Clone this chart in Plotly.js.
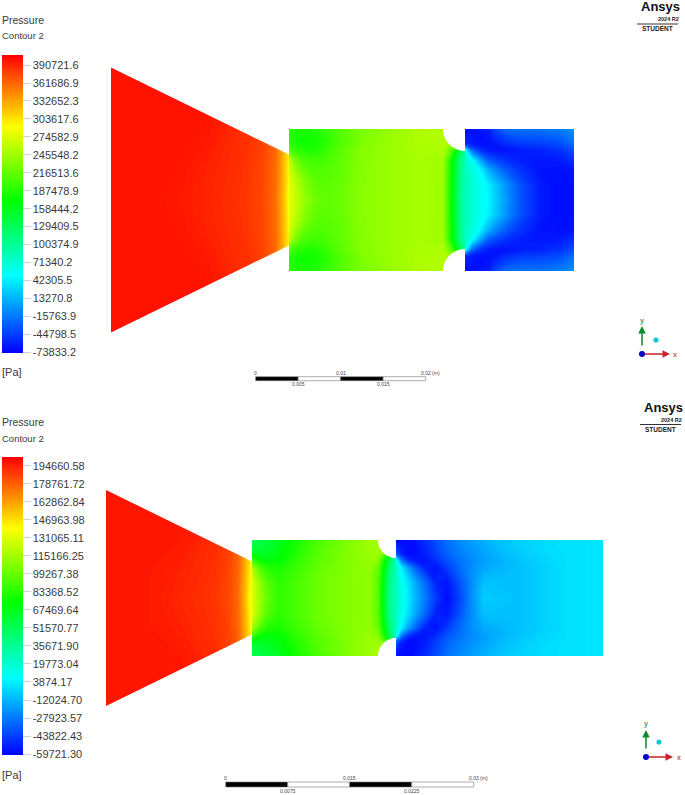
<!DOCTYPE html>
<html><head><meta charset="utf-8">
<script src="https://cdn.plot.ly/plotly-3.0.1.min.js"></script>
<style>html,body{margin:0;padding:0;background:#fff}#g{width:685px;height:795px}</style>
</head><body><div id="g"></div>
<script>
// All pressures in kPa, positions in mm. Rows go from the centre line (0) to the wall and are mirrored.
const ticksA = ["390721.6","361686.9","332652.3","303617.6","274582.9","245548.2","216513.6","187478.9","158444.2","129409.5","100374.9","71340.2","42305.5","13270.8","-15763.9","-44798.5","-73833.2"];
const ticksB = ["194660.58","178761.72","162862.84","146963.98","131065.11","115166.25","99267.38","83368.52","67469.64","51570.77","35671.90","19773.04","3874.17","-12024.70","-27923.57","-43822.43","-59721.30"];
const scaleA = [0,5,10,15,20];
const scaleALabels = ["0","0.005","0.01","0.015","0.02 (m)"];
const scaleB = [0,7.5,15,22.5,30];
const scaleBLabels = ["0","0.0075","0.015","0.0225","0.03 (m)"];

// Top case
const coneAx = [0,4.6,7.8,11.1,13.6,16,17.8,19.3,20,20.6,20.94];
const coneAy = [0,3.53,7.06,10.59,15.59];
const coneAz = [
 [399,399,397,391,387,382,375,358,334,307,287],
 [399,399,398,392,388,383,376,359,336,310,292],
 [399,399,399,397,390,385,378,362,340,314,302],
 [399,399,399,399,394,388,381,365,344,322,312],
 [399,399,399,399,399,392,384,370,350,332,322]];
const midAx = [20.94,21.76,22.82,24,25.18,26.94,29.29,32.82,36.35,39.06,39.88,40.59,41.29,41.65];
const midAy = [0,2.35,4.71,5.88,7.06,8.35];
const midAz = [
 [280,262,240,222,216,220,235,244,250,245,185,135,95,85],
 [280,258,232,215,212,218,234,244,250,245,186,137,97,87],
 [262,225,205,200,204,215,233,244,250,246,190,142,100,90],
 [215,195,185,185,195,212,232,244,252,252,225,175,120,100],
 [190,180,175,178,188,207,228,243,252,256,256,256,256,256],
 [192,188,185,188,195,210,228,243,252,256,256,256,256,256]];
const rightAx = [41.65,42.47,43.41,44.24,45.18,46.35,48.12,50.47,52.82,54.47];
const rightAy = [0,1.76,3.53,4.71,5.88,6.59,8.35];
const rightAz = [
 [85,72,58,50,28,3,-32,-62,-70,-68],
 [85,72,58,47,26,1,-34,-62,-70,-68],
 [80,68,48,18,-6,-28,-50,-66,-68,-64],
 [75,52,8,-26,-40,-50,-60,-64,-62,-52],
 [55,-25,-50,-62,-66,-66,-62,-58,-50,-35],
 [-55,-62,-66,-68,-64,-55,-46,-44,-38,-22],
 [-70,-68,-66,-62,-42,-22,-18,-18,-12,-2]];

// Bottom case
const coneBx = [0,3.51,5.93,8.95,11.37,13.18,14.76,15.97,16.69,17.30,17.66];
const coneBy = [0,3.02,6.05,9.07,13.06];
const coneBz = [
 [197,197,196,193,191,189,185,176,160,143,132],
 [197,197,196,194,192,190,186,177,162,146,136],
 [197,197,197,196,193,191,187,179,165,150,142],
 [197,197,197,197,195,192,189,181,169,154,147],
 [197,197,197,197,197,194,190,183,173,158,152]];
const midBx = [17.66,18.39,19.11,19.84,21.05,22.86,25.89,29.51,31.93,32.90,33.63,34.35,34.84,35.08];
const midBy = [0,1.94,3.63,4.84,5.81,7.02];
const midBz = [
 [132,118,106,95,86,92,102,108,110,96,63,37,28,25],
 [132,116,102,92,85,91,102,108,110,96,65,38,28,25],
 [118,100,88,82,80,88,100,108,111,100,72,42,30,26],
 [85,72,68,68,72,83,97,108,113,110,85,52,34,28],
 [60,60,62,64,70,81,96,108,114,116,116,116,116,116],
 [52,54,57,60,66,78,94,107,114,116,116,116,116,116]];
const rightBx = [35.08,35.80,36.53,37.50,38.71,39.92,41.25,42.82,44.27,45.72,47.66,50.08,53.10,56.13,60.12];
const rightBy = [0,1.94,3.63,4.60,5.32,7.02];
const rightBz = [
 [25,15,3,-12,-28,-45,-58,-42,-22,-5,-7,-9,-4,0,1],
 [24,12,0,-16,-34,-52,-55,-38,-22,-9,-9,-9,-4,0,1],
 [22,3,-15,-35,-52,-56,-45,-32,-22,-15,-12,-9,-4,0,1],
 [10,-30,-48,-55,-55,-48,-38,-30,-23,-18,-13,-8,-3,0,1],
 [-35,-52,-57,-57,-52,-44,-34,-27,-22,-17,-11,-6,-2,0,1],
 [-58,-58,-58,-55,-48,-40,-30,-23,-18,-13,-8,-4,-1,0,1]];

const rainbow = [[0,'#0000ff'],[0.26,'#00ffff'],[0.51,'#00ff00'],[0.76,'#ffff00'],[1,'#ff0000']];
const W=685,H=795;
const px=x=>x/W, py=y=>1-y/H;
const ys=a=>[...a.slice(1).map(v=>-v).reverse(),...a];
const zs=m=>[...m.slice(1).reverse(),...m];

function field(x,y,z,axes,ca,step,lo,hi){
  return {type:'contour',x:x,y:ys(y),z:zs(z),xaxis:axes[0],yaxis:axes[1],coloraxis:ca,
    autocontour:false,contours:{start:lo,end:hi,size:step,coloring:'fill',showlines:false},
    line:{width:0,smoothing:0},hoverinfo:'skip'};
}
const data=[
 field(coneAx,coneAy,coneAz,['x','y'],'coloraxis',2,-74,407),
 field(midAx,midAy,midAz,['x','y'],'coloraxis',2,-74,407),
 field(rightAx,rightAy,rightAz,['x','y'],'coloraxis',2,-74,407),
 field(coneBx,coneBy,coneBz,['x2','y2'],'coloraxis2',1.1,-60,202),
 field(midBx,midBy,midBz,['x2','y2'],'coloraxis2',1.1,-60,202),
 field(rightBx,rightBy,rightBz,['x2','y2'],'coloraxis2',1.1,-60,202)
];

const ink='#3a3a3a', font='"Liberation Sans",Arial,sans-serif';
function cbar(vals,text,top,len){
  return {tickmode:'array',tickvals:vals,ticktext:text,ticks:'outside',ticklen:8,tickcolor:'rgba(150,150,150,0.45)',tickwidth:1,
    tickfont:{family:font,size:11,color:ink},thickness:21,thicknessmode:'pixels',len:len,lenmode:'pixels',
    x:px(2),xanchor:'left',xref:'container',y:py(top),yanchor:'top',yref:'container',xpad:0,ypad:0,outlinewidth:0};
}
function axis(dom,lo,hi){return {domain:dom,range:[lo,hi],visible:false,showgrid:false,zeroline:false,fixedrange:true};}

const annotations=[],shapes=[];
function note(t,x,y,size,opt){annotations.push(Object.assign({text:t,x:px(x),y:py(y),xref:'paper',yref:'paper',xanchor:'left',yanchor:'middle',
  showarrow:false,font:{family:font,size:size,color:ink}},opt||{}));}
function mask(xa,ya,d){shapes.push({type:'path',path:d,xref:xa,yref:ya,fillcolor:'#fff',line:{width:0},layer:'above'});}

function geometry(xa,ya,coneLen,hIn,hOut,cx,hW,r){
  const k=0.5523*r, e=coneLen+0.3, t=hIn+0.2;
  mask(xa,ya,`M0,${hIn} L${coneLen},${hOut} L${coneLen},${hW} L${e},${hW} L${e},${t} L0,${t} Z`);
  mask(xa,ya,`M0,${-hIn} L${coneLen},${-hOut} L${coneLen},${-hW} L${e},${-hW} L${e},${-t} L0,${-t} Z`);
  mask(xa,ya,`M${cx-r},${hW} C${cx-r},${hW-k} ${cx-k},${hW-r} ${cx},${hW-r} L${cx},${hW+0.1} L${cx-r},${hW+0.1} Z`);
  mask(xa,ya,`M${cx-r},${-hW} C${cx-r},${-hW+k} ${cx-k},${-hW+r} ${cx},${-hW+r} L${cx},${-hW-0.1} L${cx-r},${-hW-0.1} Z`);
}
geometry('x','y',20.94,15.59,5.35,41.65,8.35,2.59);
geometry('x2','y2',17.66,13.06,4.42,35.08,7.02,2.18);

function scaleBar(xa,vals,labels,x0,yTop,yBot,yUp,yLo){
  for(let i=0;i<vals.length-1;i++){
    shapes.push({type:'rect',xref:xa,yref:'paper',x0:x0+vals[i],x1:x0+vals[i+1],y0:py(yBot),y1:py(yTop),
      fillcolor:i%2?'#ffffff':'#000000',line:{color:'#777',width:0.6},layer:'above'});
  }
  vals.forEach((v,i)=>{
    const last=i===vals.length-1;
    annotations.push({text:labels[i],x:x0+v,y:py(i%2?yLo:yUp),xref:xa,yref:'paper',xanchor:last?'left':'center',xshift:last?-7:0,yanchor:'middle',
      showarrow:false,font:{family:font,size:5,color:'#444'}});
  });
}
scaleBar('x',scaleA,scaleALabels,17.02,376.7,380.7,372.5,384);
scaleBar('x2',scaleB,scaleBLabels,14.48,782,787,778,791);

function logo(dx,dy){
  note('Ansys',639+dx,7+dy,13,{font:{family:font,size:13,color:'#111',weight:700}});
  note('2024 R2',656+dx,19+dy,5.5,{font:{family:font,size:5.5,color:'#222',weight:700}});
  shapes.push({type:'line',xref:'paper',yref:'paper',x0:px(637+dx),x1:px(678+dx),y0:py(24+dy),y1:py(24+dy),line:{color:'#333',width:1}});
  note('STUDENT',640+dx,29+dy,6.5,{font:{family:font,size:6.5,color:'#222',weight:700}});
}
logo(0,0);logo(3,400.5);

function triad(ox,oy,len,cyanX,cyanY){
  annotations.push({text:' ',x:px(ox),y:py(oy-len),xref:'paper',yref:'paper',ax:0,ay:len,axref:'pixel',ayref:'pixel',showarrow:true,arrowhead:2,arrowsize:1,arrowwidth:1.5,arrowcolor:'#0a8a2a',standoff:0,startstandoff:0});
  annotations.push({text:' ',x:px(ox+len),y:py(oy),xref:'paper',yref:'paper',ax:-len,ay:0,axref:'pixel',ayref:'pixel',showarrow:true,arrowhead:2,arrowsize:1,arrowwidth:1.5,arrowcolor:'#d0202a',standoff:0,startstandoff:0});
  note('y',ox,oy-33,7,{xanchor:'center',font:{family:font,size:7,color:'#4a9a6a',weight:700}});
  note('x',ox+33,oy,7,{xanchor:'center',font:{family:font,size:7,color:'#c05a5a',weight:700}});
  const dot=(cx,cy,r,c)=>shapes.push({type:'circle',xref:'paper',yref:'paper',x0:px(cx-r),x1:px(cx+r),y0:py(cy+r),y1:py(cy-r),fillcolor:c,line:{width:0},layer:'above'});
  dot(ox,oy,3,'#0000c8');dot(cyanX,cyanY,2.6,'#10c8d0');
}
triad(642,354,28,656,340);
triad(646,757,27,659,742);

note('Pressure',0,20,10.5);note('Contour 2',0,36,9.5);note('[Pa]',0,372,11);
note('Pressure',0,422,10.5);note('Contour 2',0,438,9.5);note('[Pa]',0,775,11);

const layout={width:W,height:H,margin:{l:0,r:0,t:0,b:0,autoexpand:false},paper_bgcolor:'#fff',plot_bgcolor:'#fff',showlegend:false,
  xaxis:axis([0,1],-111/8.5,(685-111)/8.5),yaxis:axis([1-397/795,1],(200-397)/8.5,200/8.5),
  xaxis2:axis([0,1],-106/8.267,(685-106)/8.267),yaxis2:axis([0,1-398/795],(598-795)/8.267,(598-398)/8.267),
  coloraxis:{cmin:-73.8332,cmax:406.9,colorscale:rainbow,colorbar:cbar(ticksA.map(t=>+t/1000),ticksA,55,298)},
  coloraxis2:{cmin:-59.7213,cmax:201.7,colorscale:rainbow,colorbar:cbar(ticksB.map(t=>+t/1000),ticksB,457,298)},
  annotations:annotations,shapes:shapes,font:{family:font}};
Plotly.newPlot('g',data,layout,{staticPlot:true,displayModeBar:false});
</script></body></html>
